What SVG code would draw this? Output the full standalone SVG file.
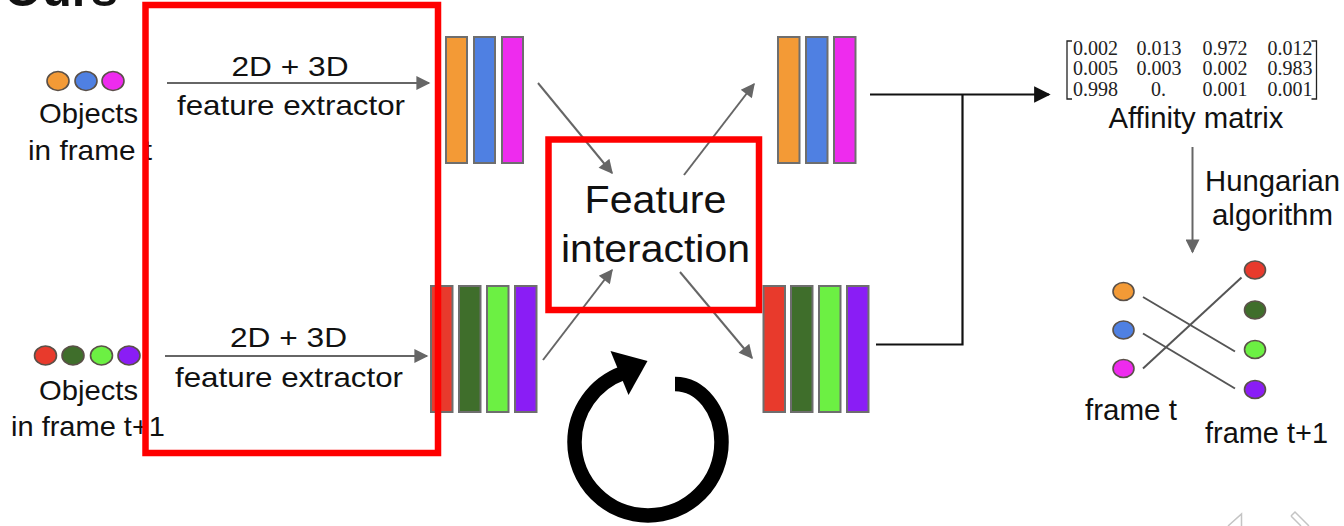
<svg xmlns="http://www.w3.org/2000/svg" width="1344" height="526" viewBox="0 0 1344 526">
  <style>
    .t { font-family: "Liberation Sans", Arial, sans-serif; fill: #111; }
    .m { font-family: "Liberation Serif", "Times New Roman", serif; font-size: 20px; fill: #222; text-anchor: middle; }
    .bar { stroke: #6e6e6e; stroke-width: 2; }
    .dot { stroke: #5a5048; stroke-width: 1.6; }
    .gray { stroke: #666; stroke-width: 2; fill: none; }
    .blk { stroke: #111; stroke-width: 2.2; fill: none; }
    .hl { fill: none; stroke: #ff0000; stroke-width: 6.5; }
    .o { fill: #f39a36; } .b { fill: #4f80e2; } .p { fill: #ee2bee; }
    .r { fill: #e83a2c; } .dg { fill: #3f6e2b; } .lg { fill: #6cf043; } .v { fill: #8a1df5; }
  </style>
  <defs>
    <marker id="ah" viewBox="0 0 10 10" refX="9" refY="5" markerWidth="8" markerHeight="7" markerUnits="strokeWidth" orient="auto">
      <path d="M0,0 L10,5 L0,10 z" fill="#666"/>
    </marker>
    <marker id="ahk" viewBox="0 0 10 10" refX="9" refY="5" markerWidth="9" markerHeight="7.5" markerUnits="strokeWidth" orient="auto">
      <path d="M0,0 L10,5 L0,10 z" fill="#111"/>
    </marker>
  </defs>

  <rect width="1344" height="526" fill="#fff"/>

  <!-- heading, mostly cut off at the top edge -->
  <text class="t" x="4" y="6" font-size="48" font-weight="bold" textLength="114" lengthAdjust="spacingAndGlyphs">Ours</text>

  <!-- connectors -->
  <g id="connectors">
    <line class="gray" x1="167" y1="83" x2="429" y2="83" marker-end="url(#ah)"/>
    <line class="gray" x1="165" y1="356" x2="427" y2="356" marker-end="url(#ah)"/>
    <line class="gray" x1="538" y1="83" x2="612" y2="173" marker-end="url(#ah)"/>
    <line class="gray" x1="684" y1="175" x2="754" y2="84" marker-end="url(#ah)"/>
    <line class="gray" x1="543" y1="360" x2="612" y2="270" marker-end="url(#ah)"/>
    <line class="gray" x1="680" y1="272" x2="752" y2="358" marker-end="url(#ah)"/>
    <polyline class="blk" points="870,94.5 1049,94.5" marker-end="url(#ahk)"/>
    <polyline class="blk" points="876,344.5 962.5,344.5 962.5,94.5"/>
    <line class="gray" x1="1192.5" y1="147" x2="1192.5" y2="252" marker-end="url(#ah)"/>
  </g>

  <!-- objects in frame t -->
  <g id="objects-t">
    <ellipse class="dot o" cx="58" cy="81" rx="11" ry="9.5"/>
    <ellipse class="dot b" cx="86" cy="81" rx="11" ry="9.5"/>
    <ellipse class="dot p" cx="113" cy="81" rx="11" ry="9.5"/>
    <text class="t" x="88.5" y="123" font-size="28" text-anchor="middle" textLength="99" lengthAdjust="spacingAndGlyphs">Objects</text>
    <text class="t" x="90" y="160" font-size="28" text-anchor="middle" textLength="124" lengthAdjust="spacingAndGlyphs">in frame t</text>
  </g>

  <!-- objects in frame t+1 -->
  <g id="objects-t1">
    <ellipse class="dot r" cx="45.5" cy="355.5" rx="11" ry="9.5"/>
    <ellipse class="dot dg" cx="73" cy="355.5" rx="11" ry="9.5"/>
    <ellipse class="dot lg" cx="101.5" cy="355.5" rx="11" ry="9.5"/>
    <ellipse class="dot v" cx="129" cy="355.5" rx="11" ry="9.5"/>
    <text class="t" x="88.5" y="400" font-size="28" text-anchor="middle" textLength="99" lengthAdjust="spacingAndGlyphs">Objects</text>
    <text class="t" x="88" y="436" font-size="28" text-anchor="middle" textLength="154" lengthAdjust="spacingAndGlyphs">in frame t+1</text>
  </g>

  <!-- extractor labels -->
  <g id="extractor">
    <text class="t" x="290" y="76" font-size="28" text-anchor="middle" textLength="117" lengthAdjust="spacingAndGlyphs">2D + 3D</text>
    <text class="t" x="291" y="115" font-size="28" text-anchor="middle" textLength="228" lengthAdjust="spacingAndGlyphs">feature extractor</text>
    <text class="t" x="288.5" y="347" font-size="28" text-anchor="middle" textLength="117" lengthAdjust="spacingAndGlyphs">2D + 3D</text>
    <text class="t" x="289" y="387" font-size="28" text-anchor="middle" textLength="228" lengthAdjust="spacingAndGlyphs">feature extractor</text>
  </g>

  <!-- feature vectors -->
  <g id="features-t-in">
    <rect class="bar o" x="446" y="37" width="21" height="126"/>
    <rect class="bar b" x="474" y="37" width="21" height="126"/>
    <rect class="bar p" x="502" y="37" width="21" height="126"/>
  </g>
  <g id="features-t-out">
    <rect class="bar o" x="778" y="37" width="21.5" height="126"/>
    <rect class="bar b" x="806" y="37" width="21.5" height="126"/>
    <rect class="bar p" x="834" y="37" width="21.5" height="126"/>
  </g>
  <g id="features-t1-in">
    <rect class="bar r" x="431" y="286" width="21.5" height="126"/>
    <rect class="bar dg" x="459" y="286" width="21.5" height="126"/>
    <rect class="bar lg" x="487" y="286" width="21.5" height="126"/>
    <rect class="bar v" x="515" y="286" width="21.5" height="126"/>
  </g>
  <g id="features-t1-out">
    <rect class="bar r" x="763.5" y="286" width="21.5" height="126"/>
    <rect class="bar dg" x="791" y="286" width="21.5" height="126"/>
    <rect class="bar lg" x="819" y="286" width="21.5" height="126"/>
    <rect class="bar v" x="847" y="286" width="21.5" height="126"/>
  </g>

  <!-- feature interaction -->
  <g id="interaction">
    <text class="t" x="655.5" y="213" font-size="38" text-anchor="middle" textLength="142" lengthAdjust="spacingAndGlyphs">Feature</text>
    <text class="t" x="655.5" y="262" font-size="38" text-anchor="middle" textLength="189" lengthAdjust="spacingAndGlyphs">interaction</text>
    <rect class="hl" x="548.5" y="139.5" width="210.5" height="170.5"/>
  </g>

  <!-- highlight around the extractor stage -->
  <rect id="extractor-frame" class="hl" x="145.5" y="5" width="292.5" height="448"/>

  <!-- iteration symbol -->
  <g id="loop">
    <path d="M675,384 A46.5 58 0 0 1 721.5,442 A73.5 73.5 0 0 1 574.5,442 A73.5 73.5 0 0 1 623,373" fill="none" stroke="#000" stroke-width="14.5"/>
    <polygon points="647.5,361 610.5,351 628.5,395" fill="#000"/>
  </g>

  <!-- affinity matrix -->
  <g id="affinity">
    <path d="M1072,41 H1067 V99 H1072 M1311.5,41 H1316.5 V99 H1311.5" fill="none" stroke="#222" stroke-width="1.3"/>
    <text class="m" x="1095.5" y="54.5">0.002</text>
    <text class="m" x="1159" y="54.5">0.013</text>
    <text class="m" x="1225" y="54.5">0.972</text>
    <text class="m" x="1290" y="54.5">0.012</text>
    <text class="m" x="1095.5" y="75">0.005</text>
    <text class="m" x="1159" y="75">0.003</text>
    <text class="m" x="1225" y="75">0.002</text>
    <text class="m" x="1290" y="75">0.983</text>
    <text class="m" x="1095.5" y="95.5">0.998</text>
    <text class="m" x="1158.5" y="95.5">0.</text>
    <text class="m" x="1225" y="95.5">0.001</text>
    <text class="m" x="1290" y="95.5">0.001</text>
    <text class="t" x="1196" y="128" font-size="29" text-anchor="middle" textLength="175" lengthAdjust="spacingAndGlyphs">Affinity matrix</text>
  </g>

  <g id="hungarian-label">
    <text class="t" x="1272.5" y="191" font-size="29" text-anchor="middle" textLength="135" lengthAdjust="spacingAndGlyphs">Hungarian</text>
    <text class="t" x="1272.5" y="225" font-size="29" text-anchor="middle" textLength="121" lengthAdjust="spacingAndGlyphs">algorithm</text>
  </g>

  <!-- resulting assignment -->
  <g id="matching">
    <g stroke="#555" stroke-width="2">
      <line x1="1143" y1="297" x2="1235" y2="351.5"/>
      <line x1="1143" y1="333.5" x2="1235" y2="388.5"/>
      <line x1="1143" y1="368.5" x2="1241.5" y2="277.5"/>
    </g>
    <ellipse class="dot o" cx="1123.5" cy="291.5" rx="10.5" ry="9"/>
    <ellipse class="dot b" cx="1123.5" cy="330" rx="10.5" ry="9"/>
    <ellipse class="dot p" cx="1123.5" cy="368.5" rx="10.5" ry="9"/>
    <ellipse class="dot r" cx="1255" cy="270" rx="10.5" ry="9"/>
    <ellipse class="dot dg" cx="1255" cy="310" rx="10.5" ry="9"/>
    <ellipse class="dot lg" cx="1255" cy="349.5" rx="10.5" ry="9"/>
    <ellipse class="dot v" cx="1255" cy="389.5" rx="10.5" ry="9"/>
    <text class="t" x="1131" y="420" font-size="29" text-anchor="middle" textLength="92" lengthAdjust="spacingAndGlyphs">frame t</text>
    <text class="t" x="1266.5" y="443" font-size="29" text-anchor="middle" textLength="123" lengthAdjust="spacingAndGlyphs">frame t+1</text>
  </g>

  <!-- faint navigation controls -->
  <g id="nav" fill="none" stroke="#c4c4c4" stroke-width="1.5">
    <polyline points="1228,526 1241.5,514 1241.5,526"/>
    <path d="M1291,516 L1295,512 L1309,526 M1291,516 L1301,526"/>
  </g>
</svg>
